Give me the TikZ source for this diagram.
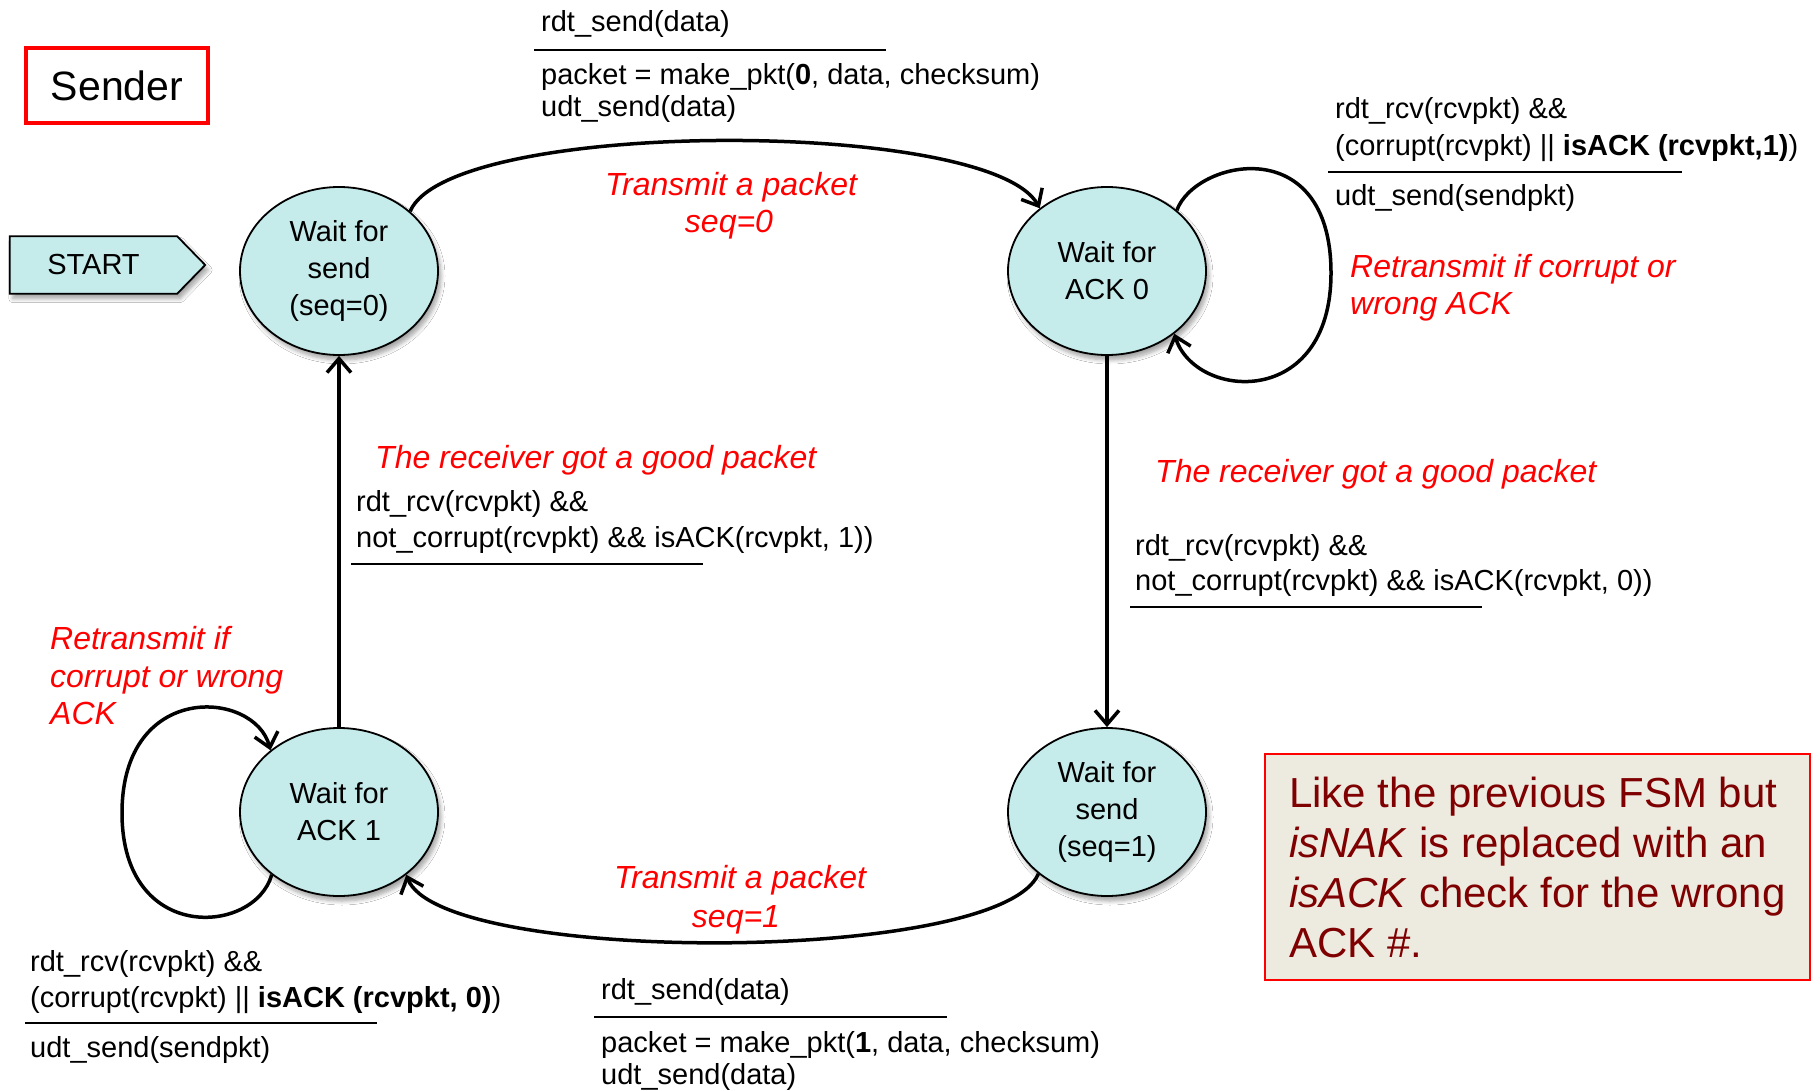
\documentclass[tikz,border=0pt]{standalone}
\usepackage{fontspec}
\setmainfont{Liberation Sans}
\usetikzlibrary{arrows.meta,shapes.geometric,backgrounds,shadows.blur,calc}

\definecolor{statefill}{HTML}{C5EBEB}
\definecolor{notefill}{HTML}{EDEAE0}
\definecolor{notetext}{HTML}{7F0000}
\definecolor{labelred}{HTML}{FF0000}

\begin{document}
\begin{tikzpicture}[x=1pt,y=-1pt,
  softshadow/.style={blur shadow={shadow xshift=3pt, shadow yshift=-5pt,
      shadow blur radius=4pt, shadow blur steps=6, shadow opacity=35}},
  fsmstate/.style={ellipse, draw=black, line width=1.8pt, fill=statefill,
      minimum width=198pt, minimum height=168pt, inner sep=0pt, align=center,
      font=\fontsize{29}{37}\selectfont, softshadow},
  trans/.style={line width=3.5pt, -{Straight Barb[length=14pt,width=24pt]}},
  seprule/.style={line width=2.8pt},
  codetxt/.style={anchor=base west, inner sep=0pt, font=\fontsize{29}{34}\selectfont},
  redlbl/.style={anchor=base west, inner sep=0pt, text=labelred,
      font=\fontsize{32}{37}\selectfont\itshape},
  redmid/.style={redlbl, anchor=base},
  notebox/.style={rectangle, draw=labelred, line width=1.5pt, fill=notefill,
      text=notetext, minimum width=545pt, minimum height=226pt, inner sep=0pt,
      align=left, font=\fontsize{42}{50}\selectfont},
  titlebox/.style={rectangle, draw=labelred, line width=4pt, minimum width=182pt,
      minimum height=75pt, inner sep=0pt, font=\fontsize{41}{49}\selectfont},
  starttext/.style={rectangle, minimum width=167pt, minimum height=57pt,
      inner sep=0pt, font=\fontsize{29}{34}\selectfont}
]
\useasboundingbox (0,0) rectangle (1820,1091);

% title and start marker
\node[titlebox] (sender) at (117,85.5) {Sender};
\node[starttext] (start) at (93.5,265) {START};

% the four states
\node[fsmstate] (A) at (339,271) {Wait for\\send\\(seq=0)};
\node[fsmstate] (B) at (1107,271) {Wait for\\ACK 0};
\node[fsmstate] (C) at (339,812) {Wait for\\ACK 1};
\node[fsmstate] (D) at (1107,812) {Wait for\\send\\(seq=1)};

\begin{scope}[on background layer]
  \fill[white] (0,0) rectangle (1820,1091);
  \draw[line width=1.8pt, fill=statefill, softshadow]
    (start.north west) -- (start.north east) -- ($(start.east)+(28,0)$)
    -- (start.south east) -- (start.south west) -- cycle;
\end{scope}

% transitions
\draw[trans] (A.40) .. controls (450,118) and (990,118) .. (B.137);
\draw[trans] (B.south) -- (D.north);
\draw[trans] (D.222) .. controls (1000,965) and (440,965) .. (C.-43);
\draw[trans] (C.north) -- (A.south);
\draw[trans] (B.41) .. controls (1195,160) and (1331,130) .. (1331,273)
  .. controls (1331,410) and (1195,400) .. (B.-43);
\draw[trans] (C.223) .. controls (255,935) and (122,945) .. (122,813)
  .. controls (122,680) and (255,690) .. (C.138);

% A -> B : send packet 0
\node[codetxt] (sA1) at (541,32) {rdt\_send(data)};
\draw[seprule] (534,50) -- (886,50);
\node[codetxt] (sA2) at (541,85) {packet = make\_pkt(\textbf{0}, data, checksum)};
\node[codetxt] (sA3) at (541,117) {udt\_send(data)};
\node[redmid] (tA1) at (731,196) {Transmit a packet};
\node[redmid] (tA2) at (729,233) {seq=0};

% B self-loop
\node[codetxt] (rB1) at (1335,119) {rdt\_rcv(rcvpkt) \&\&};
\node[codetxt] (rB2) at (1335,156) {(corrupt(rcvpkt) || \textbf{isACK (rcvpkt,1)})};
\draw[seprule] (1328,172) -- (1682,172);
\node[codetxt] (rB3) at (1335,206) {udt\_send(sendpkt)};
\node[redlbl] (tB1) at (1350,278) {Retransmit if corrupt or};
\node[redlbl] (tB2) at (1350,315) {wrong ACK};

% B -> D
\node[redlbl] (tD0) at (1155,482) {The receiver got a good packet};
\node[codetxt] (rD1) at (1135,555) {rdt\_rcv(rcvpkt) \&\&};
\node[codetxt] (rD2) at (1135,590) {not\_corrupt(rcvpkt) \&\& isACK(rcvpkt, 0))};
\draw[seprule] (1130,607) -- (1482,607);

% C -> A
\node[redlbl] (tC0) at (375,468) {The receiver got a good packet};
\node[codetxt] (rC1) at (356,511) {rdt\_rcv(rcvpkt) \&\&};
\node[codetxt] (rC2) at (356,547) {not\_corrupt(rcvpkt) \&\& isACK(rcvpkt, 1))};
\draw[seprule] (351,564) -- (703,564);

% C self-loop
\node[redlbl] (tL1) at (50,649) {Retransmit if};
\node[redlbl] (tL2) at (50,687) {corrupt or wrong};
\node[redlbl] (tL3) at (50,724) {ACK};
\node[codetxt] (rL1) at (30,971) {rdt\_rcv(rcvpkt) \&\&};
\node[codetxt] (rL2) at (30,1007) {(corrupt(rcvpkt) || \textbf{isACK (rcvpkt, 0)})};
\draw[seprule] (25,1023) -- (377,1023);
\node[codetxt] (rL3) at (30,1057) {udt\_send(sendpkt)};

% D -> C : send packet 1
\node[redmid] (tS1) at (740,888) {Transmit a packet};
\node[redmid] (tS2) at (736,927) {seq=1};
\node[codetxt] (sD1) at (601,999) {rdt\_send(data)};
\draw[seprule] (594,1017) -- (947,1017);
\node[codetxt] (sD2) at (601,1052) {packet = make\_pkt(\textbf{1}, data, checksum)};
\node[codetxt] (sD3) at (601,1084) {udt\_send(data)};

% remark
\node[notebox] (note) at (1537.5,867)
  {Like the previous FSM but\\\textit{isNAK} is replaced with an\\\textit{isACK} check for the wrong\\ACK \#.};
\end{tikzpicture}
\end{document}
